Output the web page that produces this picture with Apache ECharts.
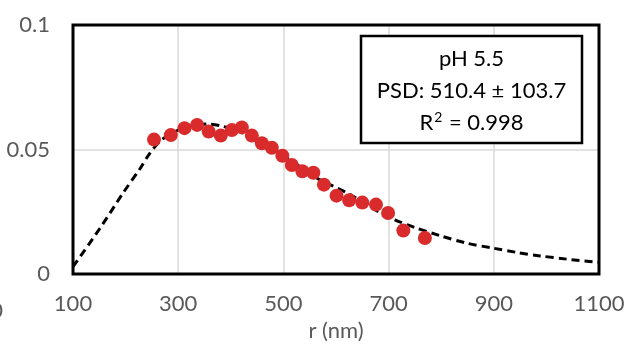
<!DOCTYPE html>
<html>
<head>
<meta charset="utf-8">
<script src="https://cdn.jsdelivr.net/npm/echarts@6/dist/echarts.min.js"></script>
<style>
html,body{margin:0;padding:0;background:#fff;}
#c{width:634px;height:347px;}
</style>
</head>
<body>
<div id="c"></div>
<script>
// Measured points (radius in nm, PSD value)
const pointR = [254, 286, 312, 336, 358, 381, 402, 421, 440, 459, 478, 498, 516, 536, 557, 577, 601, 625, 650, 676, 699, 728, 769];
const pointV = [0.0540, 0.0558, 0.0586, 0.0599, 0.0572, 0.0556, 0.0578, 0.0589, 0.0556, 0.0525, 0.0507, 0.0475, 0.0438, 0.0413, 0.0407, 0.0359, 0.0315, 0.0296, 0.0287, 0.0279, 0.0245, 0.0175, 0.0145];
// Fitted curve (dashed)
const fitR = [100, 151, 195, 227, 245, 269, 303, 332, 355, 383, 421, 456, 494, 532, 564, 621, 678, 712, 750, 798, 849, 899, 944, 988, 1039, 1100];
const fitV = [0.0030, 0.0183, 0.0325, 0.0422, 0.0482, 0.0540, 0.0581, 0.0598, 0.0603, 0.0594, 0.0569, 0.0530, 0.0482, 0.0431, 0.0385, 0.0326, 0.0254, 0.0218, 0.0187, 0.0154, 0.0124, 0.0104, 0.0087, 0.0073, 0.0060, 0.0047];
const xTitle = 'r (nm)';
const annotTitle = 'pH 5.5';
const annotPSD = 'PSD: 510.4 ± 103.7';
const annotR2 = '0.998';

const FONT = 'Lato, "Open Sans", sans-serif';
const FS = 22;
const chart = echarts.init(document.getElementById('c'), null, {renderer: 'canvas'});
const gridL = 73, gridR = 35, gridT = 25, gridB = 67;

chart.setOption({
  animation: false,
  backgroundColor: '#fff',
  grid: {left: gridL, right: gridR, top: gridT, bottom: gridB, show: true, borderColor: '#000', borderWidth: 3, backgroundColor: 'transparent', z: 3},
  xAxis: {
    type: 'value', min: 100, max: 1100, interval: 200,
    name: xTitle, nameLocation: 'middle', nameGap: 43,
    nameTextStyle: {color: '#595959', fontSize: FS, fontFamily: FONT},
    axisLine: {show: false}, axisTick: {show: false},
    axisLabel: {color: '#595959', fontSize: FS, fontFamily: FONT, margin: 19, formatter: v => String(v)},
    splitLine: {show: true, lineStyle: {color: '#d9d9d9', width: 1.5}}
  },
  yAxis: {
    type: 'value', min: 0, max: 0.1, interval: 0.05,
    axisLine: {show: false}, axisTick: {show: false},
    axisLabel: {color: '#595959', fontSize: FS, fontFamily: FONT, margin: 23, padding: [4, 0, 0, 0]},
    splitLine: {show: true, lineStyle: {color: '#d9d9d9', width: 1.5}}
  },
  series: [
    {
      type: 'line', data: fitR.map((r, i) => [r, fitV[i]]),
      showSymbol: false, smooth: 0.3, z: 2,
      lineStyle: {color: '#000', width: 3, type: [8, 5]}
    },
    {
      type: 'scatter', data: pointR.map((r, i) => [r, pointV[i]]),
      symbol: 'circle', symbolSize: 14, z: 4,
      itemStyle: {color: '#d92b2b', opacity: 1}
    }
  ],
  graphic: [
    {
      type: 'rect', shape: {x: 361, y: 36, width: 221, height: 107},
      style: {fill: '#fff', stroke: '#000', lineWidth: 2.5}, z: 10
    },
    {
      type: 'text', x: 471.5, y: 59, z: 11,
      style: {text: annotTitle, fill: '#000', font: FS + 'px ' + FONT, align: 'center', verticalAlign: 'middle'}
    },
    {
      type: 'text', x: 471.5, y: 91, z: 11,
      style: {text: annotPSD, fill: '#000', font: FS + 'px ' + FONT, align: 'center', verticalAlign: 'middle'}
    },
    {
      type: 'text', x: 471.5, y: 123, z: 11,
      style: {
        text: '{a|R}{s|2}{a| = ' + annotR2 + '}',
        align: 'center', verticalAlign: 'middle',
        rich: {
          a: {fontSize: FS, fontFamily: FONT, color: '#000', lineHeight: 26},
          s: {fontSize: 14, fontFamily: FONT, color: '#000', lineHeight: 14, verticalAlign: 'top', padding: [0, 1, 0, 1]}
        }
      }
    },
    {
      type: 'text', x: 3, y: 311, z: 11,
      style: {text: '0', fill: '#595959', font: FS + 'px ' + FONT, align: 'right', verticalAlign: 'middle'}
    }
  ]
});
</script>
</body>
</html>
